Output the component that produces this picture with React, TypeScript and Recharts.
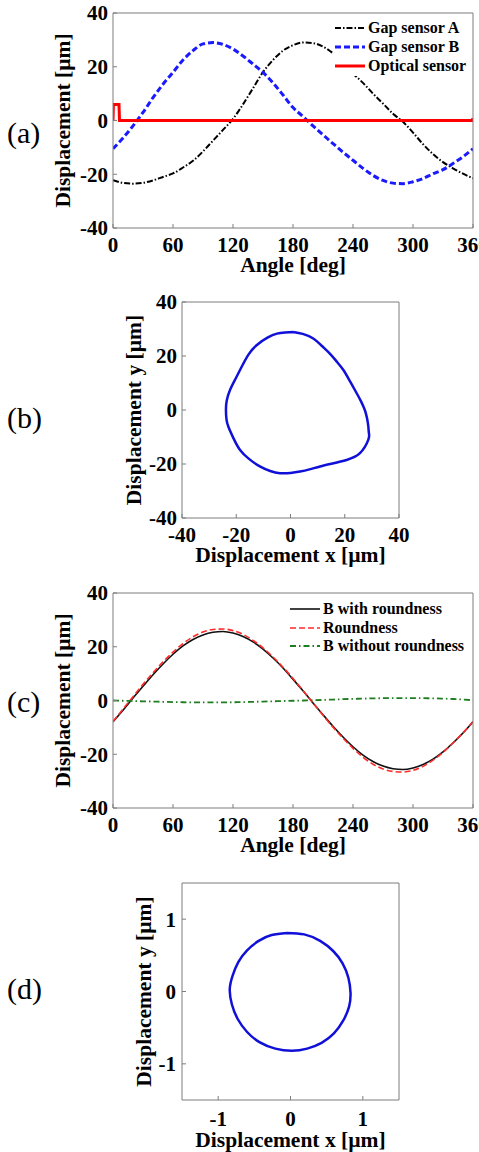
import React from 'react';
import { LineChart, Line, XAxis, YAxis, Legend, Label } from 'recharts';

const FONT = "'Liberation Serif', 'Times New Roman', Times, serif";
const FRAME = '#7d7d7d';

// ---------- Panel (a) ----------
const anglesA = [0, 10, 20, 30, 40, 50, 60, 70, 80, 90, 100, 110, 120, 130, 140, 150, 160, 170, 180, 190, 200, 210, 220, 230, 240, 250, 260, 270, 280, 290, 300, 310, 320, 330, 340, 350, 360];
const gapSensorA = [-22.2, -23.2, -23.5, -23.2, -22.3, -21.0, -19.7, -17.5, -15.0, -11.5, -7.5, -3.5, 0.6, 6.0, 12.0, 18.0, 22.5, 26.0, 28.0, 29.0, 28.8, 27.5, 25.0, 21.5, 17.5, 14.0, 10.0, 6.3, 2.5, -0.5, -4.5, -8.8, -12.5, -15.5, -17.8, -19.8, -21.5];
const gapSensorB = [-10.5, -6.5, -2.0, 3.0, 8.5, 13.5, 17.9, 22.5, 26.0, 28.5, 29.0, 28.3, 26.6, 24.0, 21.0, 17.9, 14.0, 9.5, 4.8, 1.5, -2.0, -5.3, -8.6, -11.8, -14.8, -17.8, -20.4, -22.3, -23.3, -23.5, -22.8, -21.6, -19.8, -18.3, -16.0, -13.5, -10.5];
const opticalAngles = [0, 0.4, 6, 6.5, 359, 360];
const opticalValues = [0, 6, 6, 0, 0, 0.8];

const angleTicks = [0, 60, 120, 180, 240, 300, 360];
const dispTicks = [-40, -20, 0, 20, 40];

// ---------- Panel (b) ----------
const loopBX = [1.0, -2.0, -5.0, -8.5, -12.5, -15.5, -18.0, -20.3, -22.3, -23.5, -23.8, -23.6, -22.9, -21.0, -18.6, -15.2, -11.3, -7.5, -3.9, 0.0, 3.5, 7.0, 10.9, 15.5, 20.7, 25.6, 28.7, 28.9, 28.7, 28.2, 27.4, 26.0, 24.4, 22.0, 19.5, 17.0, 14.5, 11.5, 8.4, 4.5, 1.0];
const loopBY = [28.9, 28.7, 28.3, 26.8, 24.0, 20.5, 16.0, 11.5, 7.4, 3.5, 0.0, -3.5, -6.2, -10.5, -14.8, -18.2, -20.9, -22.6, -23.4, -23.3, -22.8, -22.0, -20.9, -19.8, -18.5, -16.0, -11.0, -8.5, -6.2, -3.0, 0.0, 3.2, 6.2, 10.5, 14.8, 18.0, 20.9, 23.8, 26.5, 28.2, 28.9];
const loopTicks = [-40, -20, 0, 20, 40];

// ---------- Panel (c) ----------
const anglesC = [0, 10, 20, 30, 40, 50, 60, 70, 80, 90, 100, 110, 120, 130, 140, 150, 160, 170, 180, 190, 200, 210, 220, 230, 240, 250, 260, 270, 280, 290, 300, 310, 320, 330, 340, 350, 360];
const bWithRoundness = [-7.9, -3.6, 0.9, 5.3, 9.6, 13.6, 17.2, 20.3, 22.7, 24.4, 25.4, 25.7, 25.1, 23.8, 21.8, 19.1, 15.8, 12.1, 7.9, 3.6, -0.9, -5.3, -9.6, -13.6, -17.2, -20.3, -22.7, -24.4, -25.4, -25.7, -25.1, -23.8, -21.8, -19.1, -15.8, -12.1, -7.9];
const roundness = [-7.8, -3.2, 1.4, 6.0, 10.3, 14.4, 18.0, 21.2, 23.7, 25.5, 26.4, 26.6, 26.0, 24.6, 22.4, 19.6, 16.2, 12.4, 8.2, 3.7, -0.9, -5.5, -9.9, -14.0, -17.8, -21.1, -23.7, -25.5, -26.4, -26.6, -26.0, -24.5, -22.2, -19.3, -15.8, -12.0, -7.9];
const bWithoutRoundness = [0.0, -0.1, -0.2, -0.3, -0.4, -0.5, -0.6, -0.65, -0.7, -0.7, -0.7, -0.7, -0.65, -0.6, -0.5, -0.4, -0.3, -0.2, -0.1, 0.0, 0.1, 0.2, 0.35, 0.5, 0.6, 0.7, 0.8, 0.85, 0.9, 0.9, 0.9, 0.85, 0.8, 0.7, 0.55, 0.35, 0.1];

// ---------- Panel (d) ----------
const loopDX = [-0.05, -0.26, -0.44, -0.60, -0.72, -0.80, -0.84, -0.81, -0.73, -0.60, -0.43, -0.21, 0.02, 0.23, 0.43, 0.60, 0.73, 0.81, 0.83, 0.80, 0.72, 0.59, 0.41, 0.19, -0.05];
const loopDY = [0.81, 0.78, 0.70, 0.57, 0.41, 0.22, 0.03, -0.18, -0.38, -0.56, -0.70, -0.79, -0.82, -0.79, -0.71, -0.58, -0.40, -0.21, -0.02, 0.19, 0.39, 0.56, 0.70, 0.79, 0.81];
const smallTicks = [-1, 0, 1];

// ---------- tables ----------
const dataA = anglesA.map((a, i) => ({ angle: a, gapA: gapSensorA[i], gapB: gapSensorB[i] }));
const dataOptical = opticalAngles.map((a, i) => ({ angle: a, optical: opticalValues[i] }));
const dataB = loopBX.map((x, i) => ({ x, y: loopBY[i] }));
const dataC = anglesC.map((a, i) => ({ angle: a, withR: bWithRoundness[i], round: roundness[i], without: bWithoutRoundness[i] }));
const dataD = loopDX.map((x, i) => ({ x, y: loopDY[i] }));

const tickStyle = { fill: '#000', fontSize: 21, fontWeight: 'bold' as const, fontFamily: FONT };
const TITLE_SIZE = 21.5;

function frameAxes(xDomain: number[], xTicks: number[], yDomain: number[], yTicks: number[]) {
  return [
    <XAxis key="top" xAxisId="top" orientation="top" type="number" height={1} domain={xDomain} ticks={xTicks} interval={0}
      allowDataOverflow tick={false} tickSize={-4} axisLine={{ stroke: FRAME }} tickLine={{ stroke: FRAME }} />,
    <YAxis key="right" yAxisId="right" orientation="right" type="number" width={1} domain={yDomain} ticks={yTicks} interval={0}
      allowDataOverflow tick={false} tickSize={-4} axisLine={{ stroke: FRAME }} tickLine={{ stroke: FRAME }} />,
  ];
}

function yTitle(text: string, x: number, cy: number, panel: string, panelBaseline: number) {
  return () => (
    <g>
      <text x={x} y={cy} transform={`rotate(-90, ${x}, ${cy})`} textAnchor="middle" fontFamily={FONT}
        fontWeight="bold" fontSize={TITLE_SIZE} fill="#000">{text}</text>
      <text x={7} y={panelBaseline} fontFamily={FONT} fontSize={30} fill="#000">{panel}</text>
    </g>
  );
}

function xTitle(text: string, cx: number, baseline: number) {
  return () => (
    <text x={cx} y={baseline} textAnchor="middle" fontFamily={FONT} fontWeight="bold" fontSize={TITLE_SIZE} fill="#000">{text}</text>
  );
}

type LegItem = { label: string; color: string; dash?: string; width: number };

function makeLegend(items: LegItem[], rowH: number) {
  return () => (
    <div style={{ background: '#fff', padding: '1px 0 1px 2px', fontFamily: FONT, fontWeight: 'bold', fontSize: 16, color: '#000' }}>
      {items.map((it) => (
        <div key={it.label} style={{ height: rowH, display: 'flex', alignItems: 'center', whiteSpace: 'nowrap' }}>
          <svg width={30} height={8} style={{ marginRight: 3, flex: 'none' }}>
            <line x1={0} y1={4} x2={30} y2={4} stroke={it.color} strokeWidth={it.width} strokeDasharray={it.dash} />
          </svg>
          <span style={{ lineHeight: 1 }}>{it.label}</span>
        </div>
      ))}
    </div>
  );
}

const legendA = makeLegend([
  { label: 'Gap sensor A', color: '#000', dash: '6 2 1.5 2', width: 2 },
  { label: 'Gap sensor B', color: '#1a1aff', dash: '6 3', width: 3 },
  { label: 'Optical sensor', color: '#ff0000', width: 3 },
], 19);

const legendC = makeLegend([
  { label: 'B with roundness', color: '#111', width: 1.6 },
  { label: 'Roundness', color: '#ff2a2a', dash: '6 3', width: 1.6 },
  { label: 'B without roundness', color: '#1e7d1e', dash: '6 3 1.5 3', width: 1.8 },
], 18.5);

export default function App() {
  const legendProps = { layout: 'vertical' as const, align: 'center' as const, verticalAlign: 'middle' as const };
  return (
    <div style={{ position: 'absolute', left: 0, top: 0, width: 479, height: 1152, overflow: 'hidden', background: '#fff' }}>
      {/* (a) */}
      <div style={{ position: 'absolute', left: 0, top: 0 }}>
        <LineChart width={500} height={290} data={dataA} margin={{ top: 12, right: 26, left: 0, bottom: 0 }}>
          <XAxis dataKey="angle" type="number" domain={[0, 360]} ticks={angleTicks} interval={0} allowDataOverflow height={62}
            tickSize={-4} tickMargin={13} tick={tickStyle} axisLine={{ stroke: FRAME }} tickLine={{ stroke: FRAME }}>
            <Label value="Angle [deg]" content={xTitle('Angle [deg]', 293, 272)} />
          </XAxis>
          <YAxis type="number" domain={[-40, 40]} ticks={dispTicks} interval={0} allowDataOverflow width={113}
            tickSize={-4} tickMargin={9} tick={tickStyle} axisLine={{ stroke: FRAME }} tickLine={{ stroke: FRAME }}>
            <Label value="Displacement [µm]" content={yTitle('Displacement [µm]', 70, 120.5, '(a)', 143)} />
          </YAxis>
          {frameAxes([0, 360], angleTicks, [-40, 40], dispTicks)}
          <Line type="monotone" dataKey="gapA" stroke="#000" strokeWidth={2} strokeDasharray="6 2 1.5 2" dot={false} isAnimationActive={false} />
          <Line type="monotone" dataKey="gapB" stroke="#1a1aff" strokeWidth={3} strokeDasharray="6 3" dot={false} isAnimationActive={false} />
          <Line data={dataOptical} dataKey="optical" stroke="#ff0000" strokeWidth={3} dot={false} isAnimationActive={false} />
          <Legend {...legendProps} content={legendA} wrapperStyle={{ position: 'absolute', left: 333, top: 17, width: 134 }} />
        </LineChart>
      </div>

      {/* (b) */}
      <div style={{ position: 'absolute', left: 0, top: 290 }}>
        <LineChart width={479} height={290} data={dataB} margin={{ top: 11, right: 79, left: 0, bottom: 0 }}>
          <XAxis dataKey="x" type="number" domain={[-40, 40]} ticks={loopTicks} interval={0} allowDataOverflow height={62}
            tickSize={-4} tickMargin={13} tick={tickStyle} axisLine={{ stroke: FRAME }} tickLine={{ stroke: FRAME }}>
            <Label value="Displacement x [µm]" content={xTitle('Displacement x [µm]', 290.5, 272)} />
          </XAxis>
          <YAxis type="number" domain={[-40, 40]} ticks={loopTicks} interval={0} allowDataOverflow width={182}
            tickSize={-4} tickMargin={9} tick={tickStyle} axisLine={{ stroke: FRAME }} tickLine={{ stroke: FRAME }}>
            <Label value="Displacement y [µm]" content={yTitle('Displacement y [µm]', 141, 120, '(b)', 138)} />
          </YAxis>
          {frameAxes([-40, 40], loopTicks, [-40, 40], loopTicks)}
          <Line type="natural" dataKey="y" stroke="#1010d8" strokeWidth={2.5} dot={false} isAnimationActive={false} />
        </LineChart>
      </div>

      {/* (c) */}
      <div style={{ position: 'absolute', left: 0, top: 580 }}>
        <LineChart width={500} height={290} data={dataC} margin={{ top: 12, right: 26, left: 0, bottom: 0 }}>
          <XAxis dataKey="angle" type="number" domain={[0, 360]} ticks={angleTicks} interval={0} allowDataOverflow height={62}
            tickSize={-4} tickMargin={13} tick={tickStyle} axisLine={{ stroke: FRAME }} tickLine={{ stroke: FRAME }}>
            <Label value="Angle [deg]" content={xTitle('Angle [deg]', 293, 272)} />
          </XAxis>
          <YAxis type="number" domain={[-40, 40]} ticks={dispTicks} interval={0} allowDataOverflow width={113}
            tickSize={-4} tickMargin={9} tick={tickStyle} axisLine={{ stroke: FRAME }} tickLine={{ stroke: FRAME }}>
            <Label value="Displacement [µm]" content={yTitle('Displacement [µm]', 70, 120.5, '(c)', 132)} />
          </YAxis>
          {frameAxes([0, 360], angleTicks, [-40, 40], dispTicks)}
          <Line type="monotone" dataKey="withR" stroke="#111" strokeWidth={1.6} dot={false} isAnimationActive={false} />
          <Line type="monotone" dataKey="round" stroke="#ff2a2a" strokeWidth={1.6} strokeDasharray="6 3" dot={false} isAnimationActive={false} />
          <Line type="monotone" dataKey="without" stroke="#1e7d1e" strokeWidth={1.8} strokeDasharray="6 3 1.5 3" dot={false} isAnimationActive={false} />
          <Legend {...legendProps} content={legendC} wrapperStyle={{ position: 'absolute', left: 288, top: 19, width: 180 }} />
        </LineChart>
      </div>

      {/* (d) */}
      <div style={{ position: 'absolute', left: 0, top: 870 }}>
        <LineChart width={479} height={282} data={dataD} margin={{ top: 12, right: 79, left: 0, bottom: 0 }}>
          <XAxis dataKey="x" type="number" domain={[-1.5, 1.5]} ticks={smallTicks} interval={0} allowDataOverflow height={52}
            tickSize={-4} tickMargin={15} tick={tickStyle} axisLine={{ stroke: FRAME }} tickLine={{ stroke: FRAME }}>
            <Label value="Displacement x [µm]" content={xTitle('Displacement x [µm]', 290.5, 277)} />
          </XAxis>
          <YAxis type="number" domain={[-1.5, 1.5]} ticks={smallTicks} interval={0} allowDataOverflow width={182}
            tickSize={-4} tickMargin={10} tick={tickStyle} axisLine={{ stroke: FRAME }} tickLine={{ stroke: FRAME }}>
            <Label value="Displacement y [µm]" content={yTitle('Displacement y [µm]', 151, 121.5, '(d)', 129)} />
          </YAxis>
          {frameAxes([-1.5, 1.5], smallTicks, [-1.5, 1.5], smallTicks)}
          <Line type="natural" dataKey="y" stroke="#1010d8" strokeWidth={2.5} dot={false} isAnimationActive={false} />
        </LineChart>
      </div>
    </div>
  );
}
